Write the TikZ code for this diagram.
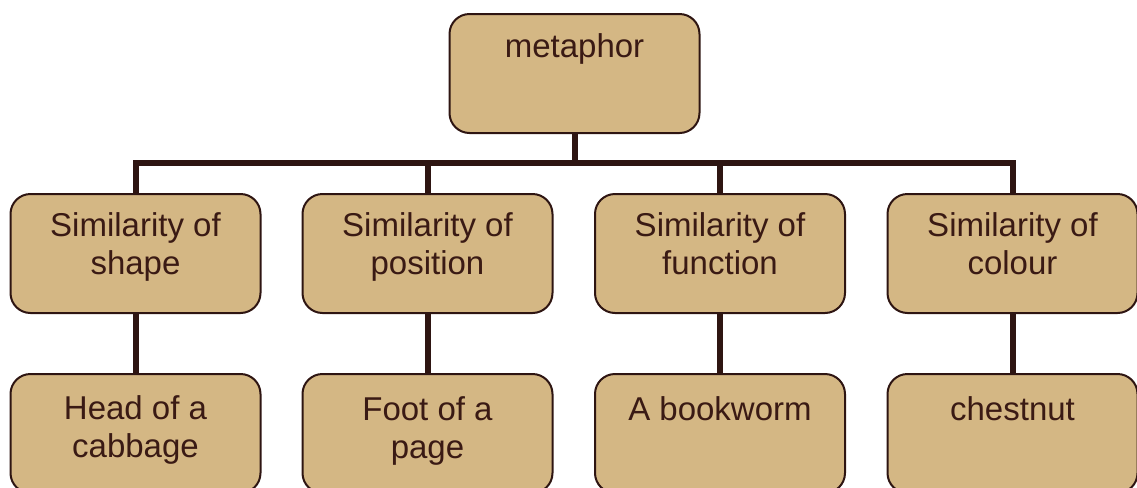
\documentclass[tikz,border=0pt]{standalone}
\usepackage{fontspec}
\setmainfont{Liberation Sans}
\definecolor{boxfill}{HTML}{D4B784}
\definecolor{boxline}{HTML}{2E1512}
\definecolor{inkbrown}{HTML}{3A1A14}
\begin{document}
\begin{tikzpicture}[x=0.5pt,y=-0.5pt,
  card/.style={draw=boxline,line width=1pt,fill=boxfill,rounded corners=10pt,
    minimum width=125pt,minimum height=59.5pt,inner sep=0pt},
  caption/.style={anchor=north,align=center,inner sep=0pt,text=inkbrown,
    font=\fontsize{16.5pt}{19pt}\selectfont},
  link/.style={draw=boxline,line width=3pt,line join=miter}]
\useasboundingbox (0,0) rectangle (1137,488);
\clip (0,0) rectangle (1137,488);

% root
\node[card] (root) at (574.5,73.5) {};
\node[caption] (rootT) at ([yshift=-10pt]root.north) {metaphor};

% kinds of similarity
\node[card] (s1) at (135.5,253.5) {};
\node[card] (s2) at (427.5,253.5) {};
\node[card] (s3) at (720,253.5) {};
\node[card] (s4) at (1012.5,253.5) {};
\node[caption] (s1T) at ([yshift=-9.5pt]s1.north) {Similarity of\\shape};
\node[caption] (s2T) at ([yshift=-9.5pt]s2.north) {Similarity of\\position};
\node[caption] (s3T) at ([yshift=-9.5pt]s3.north) {Similarity of\\function};
\node[caption] (s4T) at ([yshift=-9.5pt]s4.north) {Similarity of\\colour};

% examples
\node[card] (e1) at (135.5,433.5) {};
\node[card] (e2) at (427.5,433.5) {};
\node[card] (e3) at (720,433.5) {};
\node[card] (e4) at (1012.5,433.5) {};
\node[caption] (e1T) at ([yshift=-11pt]e1.north) {Head of a\\cabbage};
\node[caption] (e2T) at ([yshift=-11.5pt]e2.north) {Foot of a\\page};
\node[caption] (e3T) at ([yshift=-11.5pt]e3.north) {A bookworm};
\node[caption] (e4T) at ([yshift=-11.5pt]e4.north) {chestnut};

% tree connectors
\coordinate (bus) at (574.5,163);
\draw[link] (root.south) -- (bus);
\draw[link] (s1.north) |- (bus) -| (s4.north);
\draw[link] (s2.north) -- (s2.north |- bus);
\draw[link] (s3.north) -- (s3.north |- bus);
\draw[link] (s1.south) -- (e1.north);
\draw[link] (s2.south) -- (e2.north);
\draw[link] (s3.south) -- (e3.north);
\draw[link] (s4.south) -- (e4.north);
\end{tikzpicture}
\end{document}
